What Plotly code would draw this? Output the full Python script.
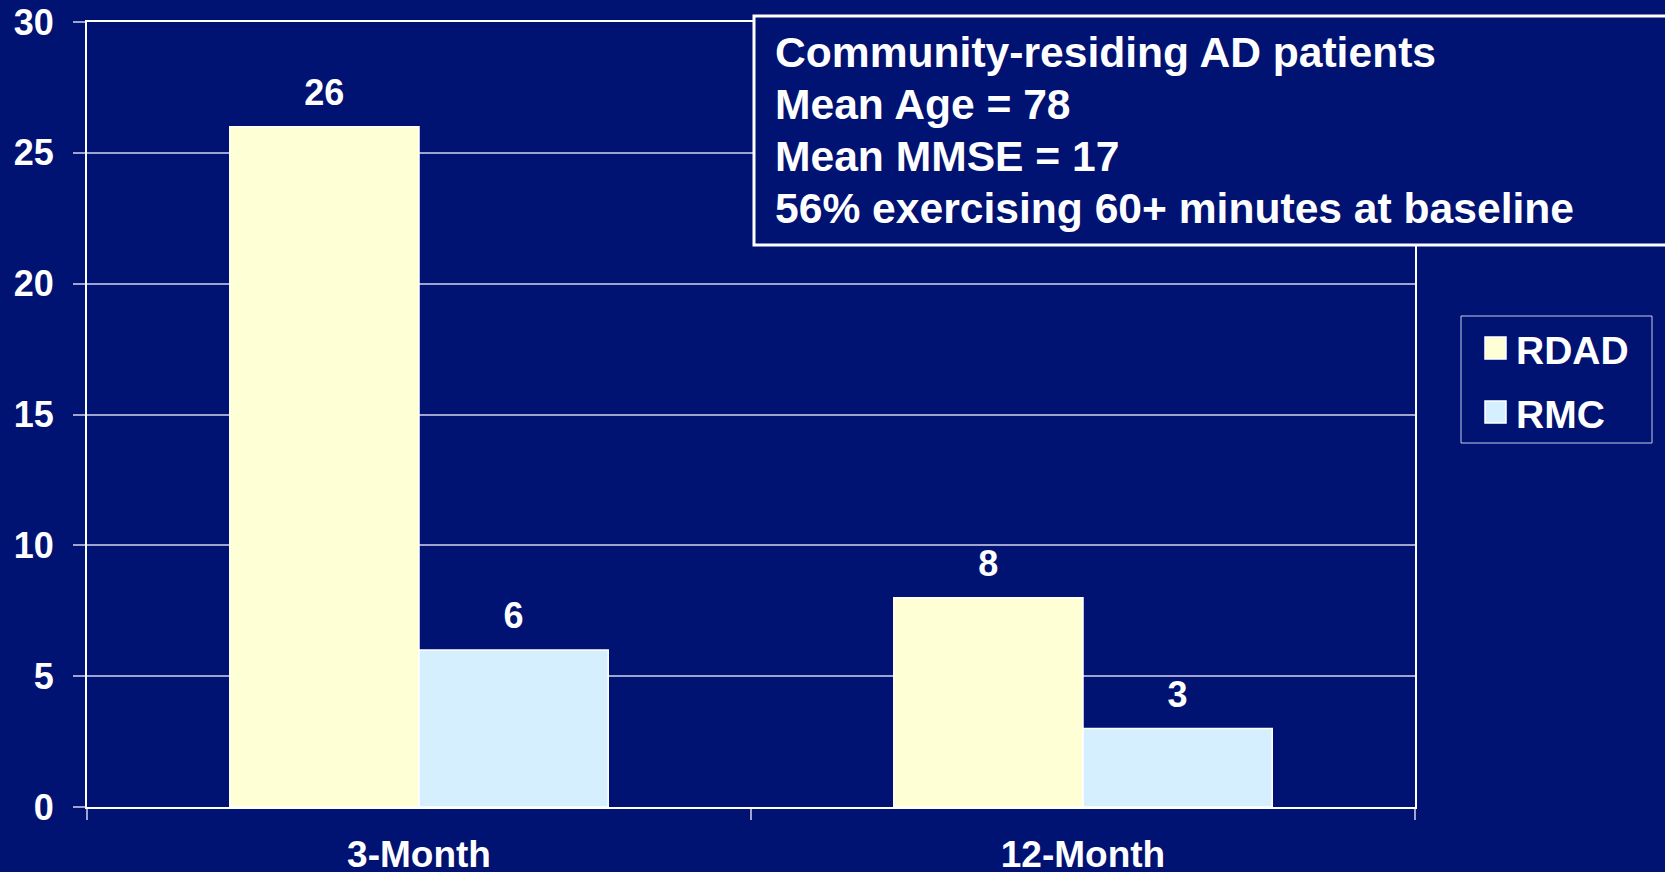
import plotly.graph_objects as go

# ---- data ----
categories = ["3-Month", "12-Month"]
series_names = ["RDAD", "RMC"]
rdad_values = [26, 8]
rmc_values = [6, 3]
y_ticks = [0, 5, 10, 15, 20, 25, 30]
info_lines = [
    "Community-residing AD patients",
    "Mean Age = 78",
    "Mean MMSE = 17",
    "56% exercising 60+ minutes at baseline",
]

# ---- style ----
NAVY = "#001272"
COL_RDAD = "#FFFFD5"
COL_RMC = "#D5EFFF"
GRID = "#9EA3D0"
FONT = "Liberation Sans, Arial, sans-serif"

W, H = 1665, 872
L, R, T, B = 87, 250, 22, 65
PW, PH = W - L - R, H - T - B
BARGAP = 0.43


def px(xp):
    return (xp - L) / PW


def py(yp):
    return (H - B - yp) / PH


fig = go.Figure()
for i, (name, vals, col) in enumerate([(series_names[0], rdad_values, COL_RDAD),
                                       (series_names[1], rmc_values, COL_RMC)]):
    fig.add_trace(go.Bar(
        name=name, x=categories, y=vals, offsetgroup=str(i),
        marker=dict(color=col, line=dict(color="white", width=1.5)),
        showlegend=False,
    ))
# value labels (grouped text points aligned with the bars; invisible markers set the gap)
for i, (name, vals) in enumerate([(series_names[0], rdad_values),
                                  (series_names[1], rmc_values)]):
    fig.add_trace(go.Scatter(
        name=name + " label", x=categories, y=vals, offsetgroup=str(i),
        mode="markers+text", text=[str(v) for v in vals], textposition="top center",
        marker=dict(size=19, opacity=0),
        textfont=dict(family=FONT, size=36, color="white", weight="bold"),
        cliponaxis=False, showlegend=False, hoverinfo="skip",
    ))

fig.update_layout(
    width=W, height=H,
    margin=dict(l=L, r=R, t=T, b=B, autoexpand=False),
    paper_bgcolor=NAVY, plot_bgcolor=NAVY,
    barmode="group", bargap=BARGAP, bargroupgap=0,
    scattermode="group", scattergap=BARGAP,
    font=dict(family=FONT, color="white", size=36, weight="bold"),
    showlegend=False,
)
fig.update_xaxes(
    type="category", showgrid=False, automargin=False,
    showline=True, linecolor="white", linewidth=2, mirror=True,
    ticks="outside", tickson="boundaries", ticklen=11, tickcolor=GRID, tickwidth=1.5,
    tickfont=dict(family=FONT, size=37, color="white", weight="bold"),
    ticklabelstandoff=14,
)
fig.update_yaxes(
    range=[0, 30], tickvals=y_ticks, automargin=False,
    showgrid=True, gridcolor=GRID, gridwidth=1.5,
    showline=True, linecolor="white", linewidth=2, mirror=True,
    ticks="outside", ticklen=12, tickcolor=GRID, tickwidth=1.5,
    tickfont=dict(family=FONT, size=36, color="white", weight="bold"),
    ticklabelstandoff=12, zeroline=False,
)

shapes = []
annotations = []

# info box
shapes.append(dict(type="rect", xref="paper", yref="paper",
                   x0=px(754), x1=px(1720), y0=py(245), y1=py(16),
                   fillcolor=NAVY, line=dict(color="white", width=3), layer="above"))
line_centers = [52, 104, 156, 208]
for txt, yc in zip(info_lines, line_centers):
    annotations.append(dict(xref="paper", yref="paper", x=px(773), y=py(yc),
                            xanchor="left", yanchor="middle", showarrow=False,
                            text=txt, font=dict(family=FONT, size=42.6, color="white", weight="bold")))

# legend
shapes.append(dict(type="rect", xref="paper", yref="paper",
                   x0=px(1461), x1=px(1652), y0=py(443), y1=py(316),
                   fillcolor=NAVY, line=dict(color="#C8CBE8", width=1)))
leg_y = [348, 412]
for name, col, yc in zip(series_names, [COL_RDAD, COL_RMC], leg_y):
    shapes.append(dict(type="rect", xref="paper", yref="paper",
                       x0=px(1485), x1=px(1506), y0=py(yc + 11), y1=py(yc - 11),
                       fillcolor=col, line=dict(color="white", width=1.5)))
    annotations.append(dict(xref="paper", yref="paper", x=px(1514), y=py(yc + 2),
                            xanchor="left", yanchor="middle", showarrow=False,
                            text=name, font=dict(family=FONT, size=39, color="white", weight="bold")))

fig.update_layout(shapes=shapes, annotations=annotations)
fig.write_html("out.html", config={"displayModeBar": False},
               post_script="document.body.style.margin='0';document.body.style.background='%s';" % NAVY)
